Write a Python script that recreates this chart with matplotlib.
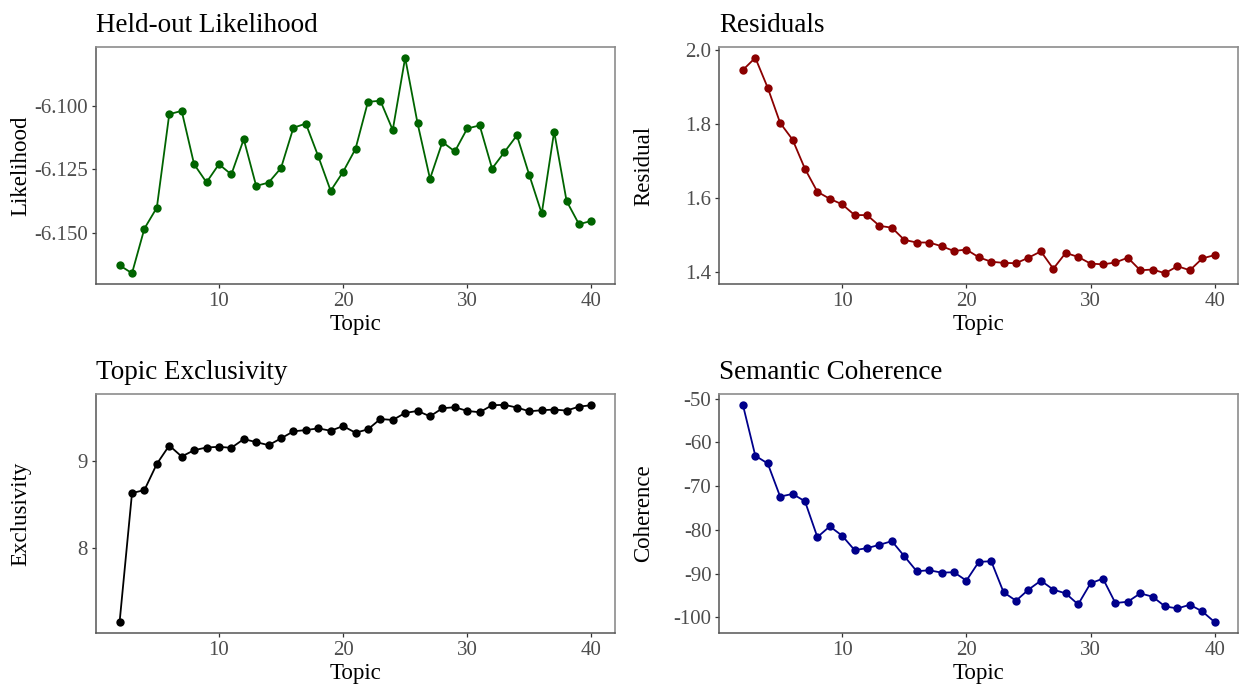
import matplotlib
matplotlib.use("Agg")
import matplotlib.pyplot as plt
import numpy as np

plt.rcParams['font.family'] = ['Liberation Serif', 'DejaVu Serif']

topics = list(range(2, 41))

likelihood = [-6.1626, -6.1657, -6.1482, -6.1400, -6.1034, -6.1021, -6.1230, -6.1301,
              -6.1230, -6.1270, -6.1132, -6.1315, -6.1302, -6.1245, -6.1087, -6.1071,
              -6.1199, -6.1334, -6.1260, -6.1170, -6.0986, -6.0981, -6.1096, -6.0813,
              -6.1070, -6.1287, -6.1143, -6.1180, -6.1090, -6.1078, -6.1247, -6.1182,
              -6.1117, -6.1273, -6.1423, -6.1102, -6.1374, -6.1465, -6.1452]

residual = [1.945, 1.978, 1.897, 1.802, 1.757, 1.678, 1.616, 1.597, 1.582, 1.553,
            1.553, 1.524, 1.519, 1.486, 1.479, 1.479, 1.469, 1.456, 1.460, 1.439,
            1.427, 1.424, 1.423, 1.438, 1.455, 1.408, 1.451, 1.440, 1.422, 1.420,
            1.425, 1.438, 1.404, 1.406, 1.396, 1.415, 1.404, 1.436, 1.445]

exclusivity = [7.147, 8.633, 8.668, 8.969, 9.181, 9.054, 9.127, 9.158, 9.166, 9.154,
               9.255, 9.220, 9.185, 9.263, 9.344, 9.359, 9.378, 9.351, 9.405, 9.328,
               9.367, 9.486, 9.475, 9.556, 9.579, 9.517, 9.610, 9.622, 9.579, 9.564,
               9.645, 9.649, 9.618, 9.575, 9.587, 9.595, 9.583, 9.629, 9.645]

coherence = [-51.45, -63.07, -64.83, -72.40, -71.79, -73.47, -81.65, -79.20, -81.35,
             -84.63, -84.17, -83.41, -82.57, -86.01, -89.45, -89.22, -89.76, -89.68,
             -91.59, -87.31, -87.16, -94.27, -96.18, -93.65, -91.59, -93.65, -94.50,
             -97.02, -92.20, -91.13, -96.71, -96.41, -94.50, -95.26, -97.48, -97.94,
             -97.10, -98.62, -101.07]

x_ticks = [10, 20, 30, 40]

panels = [
    dict(title="Held-out Likelihood", ylabel="Likelihood", y=likelihood, color="#006400",
         yticks=[-6.150, -6.125, -6.100], fmt="{:.3f}"),
    dict(title="Residuals", ylabel="Residual", y=residual, color="#8B0000",
         yticks=[1.4, 1.6, 1.8, 2.0], fmt="{:.1f}"),
    dict(title="Topic Exclusivity", ylabel="Exclusivity", y=exclusivity, color="#000000",
         yticks=[8, 9], fmt="{:.0f}"),
    dict(title="Semantic Coherence", ylabel="Coherence", y=coherence, color="#00008B",
         yticks=[-100, -90, -80, -70, -60, -50], fmt="{:.0f}"),
]

W, H = 1239, 685
fig = plt.figure(figsize=(W / 100, H / 100), dpi=100)

boxes = [
    (96, 47, 615, 284),
    (719.3, 47, 1238.3, 284),
    (96, 394, 615, 633),
    (719.3, 394, 1238.3, 633),
]

tick_col = "#4D4D4D"

def expand(vals):
    lo, hi = min(vals), max(vals)
    d = (hi - lo) * 0.05
    return lo - d, hi + d

for p, (x0, y0, x1, y1) in zip(panels, boxes):
    ax = fig.add_axes([x0 / W, 1 - y1 / H, (x1 - x0) / W, (y1 - y0) / H])
    ax.plot(topics, p["y"], color=p["color"], lw=1.3, marker="o", ms=6,
            markeredgewidth=0, zorder=3)
    ax.set_xlim(*expand(topics))
    ax.set_ylim(*expand(p["y"]))
    ax.set_xticks(x_ticks)
    ax.set_xticklabels([str(t) for t in x_ticks])
    ax.set_yticks(p["yticks"])
    ax.set_yticklabels([p["fmt"].format(v) for v in p["yticks"]])
    ax.tick_params(axis="both", direction="out", length=3.2, width=0.9,
                   color="#333333", labelcolor=tick_col, labelsize=15, pad=2.5)
    for s in ["top", "right"]:
        ax.spines[s].set_color("#8c8c8c")
        ax.spines[s].set_linewidth(1.2)
    for s in ["left", "bottom"]:
        ax.spines[s].set_color("#555555")
        ax.spines[s].set_linewidth(1.1)
    ax.set_xlabel("Topic", fontsize=16.5, color="black", labelpad=2)
    ax.set_ylabel(p["ylabel"], fontsize=16.5, color="black")
    ax.yaxis.set_label_coords(-0.125, 0.5)
    ax.set_title(p["title"], loc="left", fontsize=19.5, color="black", pad=11)

fig.savefig("out.png", dpi=100)
